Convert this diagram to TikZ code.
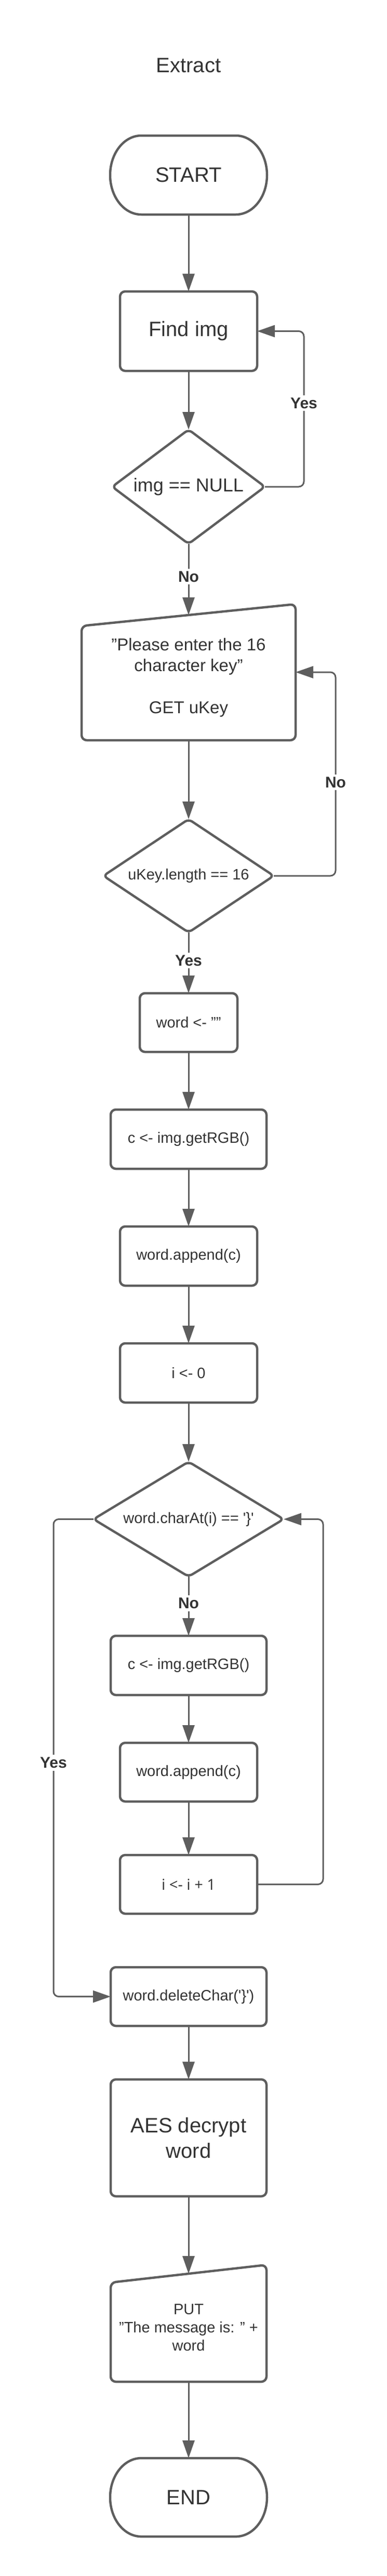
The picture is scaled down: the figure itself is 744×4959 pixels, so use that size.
\documentclass[tikz,border=0pt]{standalone}
\usepackage{fontspec}
\setmainfont{Liberation Sans}
\newfontfamily\osans{Open Sans}
\usetikzlibrary{arrows.meta,shapes.geometric}
\definecolor{ln}{HTML}{5E5E5E}
\definecolor{tx}{HTML}{333333}
\begin{document}
\begin{tikzpicture}[x=1pt,y=1pt,
  shp/.style={draw=ln, line width=4.5pt, line join=round},
  boxn/.style={rectangle, shp, fill=white, rounded corners=10pt, inner sep=0pt, outer sep=0pt, text=tx, align=center, font=\fontsize{29}{35}\selectfont},
  txtn/.style={rectangle, inner sep=0pt, outer sep=0pt, text=tx, align=center},
  dia/.style={diamond, shp, fill=white, rounded corners=8pt, inner sep=0pt, outer sep=0pt, text=tx, align=center, font=\fontsize{29}{35}\selectfont},
  conn/.style={draw=ln, line width=3pt, -{Triangle[length=34pt,width=23pt]}},
  loopc/.style={conn, rounded corners=10pt},
  lbl/.style={fill=white, text=tx, inner sep=5pt, font=\bfseries\fontsize{30}{36}\selectfont}
]
\useasboundingbox[fill=white] (0,0) rectangle (744,-4959);

% title
\node[txtn, font=\fontsize{40}{48}\selectfont] (title) at (363,-126) {Extract};

% START terminal
\node[txtn, minimum width=302pt, minimum height=152pt, font=\fontsize{40}{48}\selectfont] (start) at (363,-337) {START};
\draw[shp] ([xshift=60pt]start.north west) -- ([xshift=-60pt]start.north east)
  arc[start angle=90,end angle=-90,x radius=60pt,y radius=76pt]
  -- ([xshift=60pt]start.south west)
  arc[start angle=270,end angle=90,x radius=60pt,y radius=76pt] -- cycle;

\node[boxn, minimum width=264pt, minimum height=153pt, font=\fontsize{40}{48}\selectfont] (find) at (363,-637.5) {Find img};

\node[dia, aspect=1.336, minimum width=294pt, minimum height=220pt, font=\fontsize{36}{43}\selectfont] (d1) at (363,-937) {img == NULL};

% manual input
\node[txtn, minimum width=412pt, minimum height=241pt, font=\fontsize{33}{40.5}\selectfont] (inp) at (363,-1304.5) {"Please enter the 16\\character key"\\[40.5pt]GET uKey};
\draw[shp, rounded corners=10pt] (inp.south west) -- ([yshift=-21pt]inp.north west) -- ([yshift=21pt]inp.north east) -- (inp.south east) -- cycle;

\node[dia, aspect=1.5, minimum width=328pt, minimum height=218pt] (d2) at (363,-1686) {uKey.length == 16};

\node[boxn, minimum width=188pt, minimum height=113pt] (word) at (363,-1968.5) {word <- ""};
\node[boxn, minimum width=300pt, minimum height=114pt] (c1) at (363,-2193) {c <- img.getRGB()};
\node[boxn, minimum width=264pt, minimum height=114pt] (a1) at (363,-2418) {word.append(c)};
\node[boxn, minimum width=264pt, minimum height=114pt] (i0) at (363,-2643) {i <- 0};

\node[dia, aspect=1.66, minimum width=366pt, minimum height=221pt] (d3) at (363,-2924.5) {word.charAt(i) == \textquotesingle\}\textquotesingle};

\node[boxn, minimum width=300pt, minimum height=114pt] (c2) at (363,-3206) {c <- img.getRGB()};
\node[boxn, minimum width=264pt, minimum height=113pt] (a2) at (363,-3411.5) {word.append(c)};
\node[boxn, minimum width=264pt, minimum height=113pt, font=\osans\fontsize{29}{35}\selectfont] (inc) at (363,-3627.5) {i <- i + 1};
\node[boxn, minimum width=300pt, minimum height=113pt] (del) at (363,-3843.5) {word.deleteChar(\textquotesingle\}\textquotesingle)};
\node[boxn, minimum width=300pt, minimum height=225pt, font=\fontsize{40}{49}\selectfont] (aes) at (363,-4115.5) {AES decrypt\\word};

% output
\node[txtn, minimum width=300pt, minimum height=208pt, font=\fontsize{29}{35}\selectfont] (put) at (363,-4481) {PUT\\"The message is: " +\\word};
\draw[shp, rounded corners=10pt] (put.south west) -- ([yshift=-17pt]put.north west) -- ([yshift=17pt]put.north east) -- (put.south east) -- cycle;

% END terminal
\node[txtn, minimum width=302pt, minimum height=151pt, font=\fontsize{40}{48}\selectfont] (end) at (363,-4807.5) {END};
\draw[shp] ([xshift=60pt]end.north west) -- ([xshift=-60pt]end.north east)
  arc[start angle=90,end angle=-90,x radius=60pt,y radius=75.5pt]
  -- ([xshift=60pt]end.south west)
  arc[start angle=270,end angle=90,x radius=60pt,y radius=75.5pt] -- cycle;

% connectors
\draw[conn] (start.south) -- (find.north);
\draw[conn] (find.south) -- (d1.north);
\draw[loopc] (d1.east) -| ([xshift=90pt]find.east) -- (find.east);
\draw[conn] (d1.south) -- (inp.north);
\draw[conn] (inp.south) -- (d2.north);
\draw[loopc] (d2.east) -| ([xshift=77pt,yshift=10.5pt]inp.east) -- ([yshift=10.5pt]inp.east);
\draw[conn] (d2.south) -- (word.north);
\draw[conn] (word.south) -- (c1.north);
\draw[conn] (c1.south) -- (a1.north);
\draw[conn] (a1.south) -- (i0.north);
\draw[conn] (i0.south) -- (d3.north);
\draw[conn] (d3.south) -- (c2.north);
\draw[conn] (c2.south) -- (a2.north);
\draw[conn] (a2.south) -- (inc.north);
\draw[loopc] (inc.east) -| ([xshift=76pt]d3.east) -- (d3.east);
\draw[loopc] (d3.west) -| ([xshift=-110pt]del.west) -- (del.west);
\draw[conn] (del.south) -- (aes.north);
\draw[conn] (aes.south) -- (put.north);
\draw[conn] (put.south) -- (end.north);

% labels
\node[lbl] (yes1) at (585,-776) {Yes};
\node[lbl] (no1) at (363,-1110) {No};
\node[lbl] (no2) at (646,-1506) {No};
\node[lbl] (yes2) at (363,-1849) {Yes};
\node[lbl] (no3) at (363,-3086) {No};
\node[lbl] (yes3) at (103,-3393) {Yes};
\end{tikzpicture}
\end{document}
